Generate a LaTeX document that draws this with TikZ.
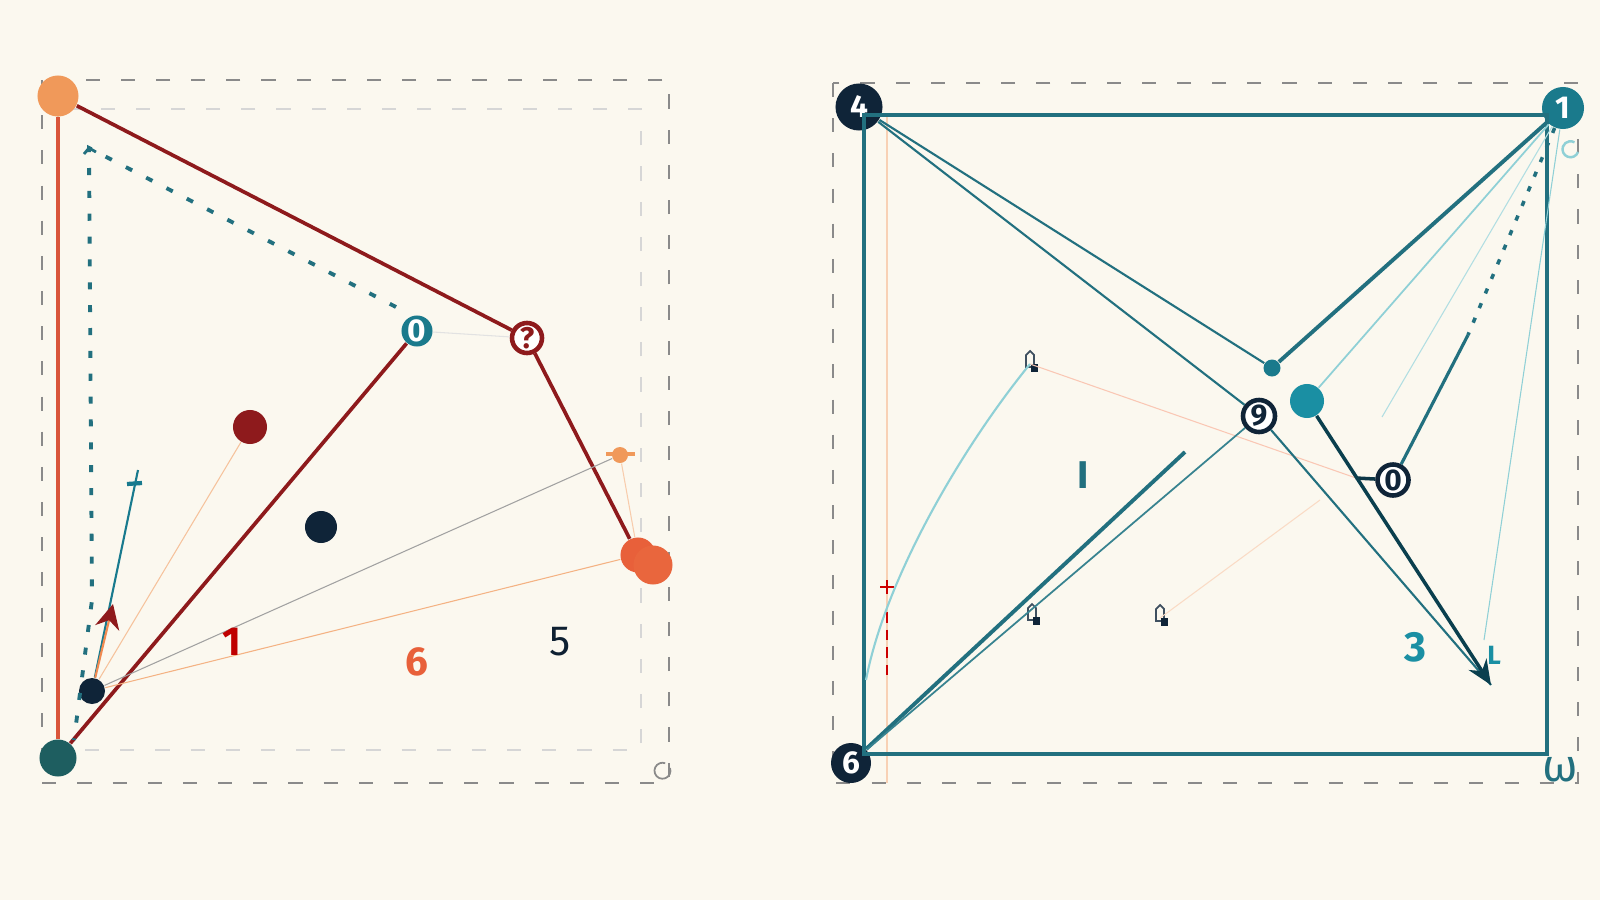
\documentclass[tikz,border=0pt]{standalone}
\usepackage{fontspec}
\setsansfont{Fira Sans}
\usetikzlibrary{arrows.meta}
\definecolor{paper}{HTML}{FBF8EF}
\definecolor{navy}{HTML}{0F2438}
\definecolor{tealline}{HTML}{22707F}
\definecolor{tealnode}{HTML}{1A7A8C}
\definecolor{tealbright}{HTML}{1A8FA3}
\definecolor{teallight}{HTML}{8FD0D6}
\definecolor{tealdeep}{HTML}{1E5E60}
\definecolor{darkred}{HTML}{8E1A1C}
\definecolor{redline}{HTML}{D9553A}
\definecolor{peach}{HTML}{F0995A}
\definecolor{flame}{HTML}{E8603A}
\definecolor{guide}{HTML}{8A8A8A}
\tikzstyle{blob} = [circle, inner sep=0pt]
\tikzstyle{numfill} = [circle, inner sep=0pt, text=white, font=\sffamily\bfseries\fontsize{9}{9}\selectfont]
\tikzstyle{numring} = [circle, inner sep=0pt, fill=white, line width=1.3pt, font=\sffamily\bfseries\fontsize{8.5}{8.5}\selectfont]
\tikzstyle{bigdigit} = [inner sep=0pt, font=\sffamily\fontsize{12}{12}\selectfont]
\tikzstyle{guidebox} = [guide, dashed, line width=0.5pt, dash pattern=on 4pt off 6pt]
\tikzstyle{redthick} = [darkred, line width=1.05pt]
\tikzstyle{tealthick} = [tealline, line width=1.1pt]
\tikzstyle{tealthin} = [tealline, line width=0.6pt]
\tikzstyle{hair} = [line width=0.3pt]
\tikzstyle{pointer} = [draw=navy!80, fill=paper, line width=0.5pt]

\begin{document}
\begin{tikzpicture}[x=0.01cm, y=-0.01cm]
\fill[paper] (0,0) rectangle (1600,900);
\useasboundingbox (0,0) rectangle (1600,900);

% left panel guides
\draw[guidebox] (42,80) rectangle (669,783);
\draw[guidebox, guide!35] (58,109) rectangle (641,750);

% left panel nodes
\node (tl) [blob, fill=peach, minimum size=0.41cm] at (58,96) {};
\node (bl) [blob, fill=tealdeep, minimum size=0.37cm] at (58,758) {};
\node (zeroL) [numfill, fill=tealnode, minimum size=0.31cm] at (417,331) {0};
\node (hook) [numring, draw=darkred, text=darkred, minimum size=0.30cm] at (527,338) {?};
\node (flameA) [blob, fill=flame, minimum size=0.35cm] at (638,555) {};
\node (flameB) [blob, fill=flame!90!peach, minimum size=0.39cm] at (653,565) {};
\node (redc) [blob, fill=darkred, minimum size=0.34cm] at (250,427) {};
\node (navmid) [blob, fill=navy, minimum size=0.32cm] at (321,527) {};
\node (navsm) [blob, fill=navy, minimum size=0.26cm] at (92,691) {};
\node (orsm) [blob, fill=peach, minimum size=0.16cm] at (620,455) {};
\coordinate (tealtop) at (138,470);
\coordinate (redtip) at (113,604);
\coordinate (dotA) at (396,307);
\coordinate (dotB) at (89,148);
\coordinate (dotC) at (92,600);
\coordinate (dotD) at (74,740);

% left panel lines
\draw[redline, line width=1pt] (tl) -- (bl);
\draw[redthick] (tl) -- (hook);
\draw[redthick] (hook) -- (flameA);
\draw[redthick] (bl) -- (zeroL);
\draw[hair, guide!25] (zeroL) -- (hook);
\draw[tealline, line width=1.1pt, dash pattern=on 2pt off 4.5pt] (dotA) -- (dotB) -- (dotC) -- (dotD);
\draw[tealline, line width=0.8pt] (84,154) -- (dotB) -- (96,152);
\draw[hair, peach!60] (redc) -- (navsm);
\draw[tealbright!80!navy, line width=0.6pt] (navsm) -- (tealtop);
\draw[tealbright!80!navy, line width=1.2pt] (127,484) -- (142,483);
\draw[peach!90!red, line width=0.6pt, -{Stealth[darkred, length=7pt, width=7pt]}] (navsm) -- (redtip);
\draw[hair, peach!75] (navsm) -- (flameA);
\draw[hair, guide!80] (navsm) -- (orsm);
\draw[hair, peach!50] (orsm) -- (flameA);
\draw[peach, line width=1pt] (606,454) -- (635,454);
\draw[guide, line width=0.5pt] (670,768) arc (-20:290:8);

% left panel labels
\node (oneL) [bigdigit, text=red!75!black, font=\sffamily\bfseries\fontsize{11.5}{11.5}\selectfont] at (232,642) {1};
\node (sixL) [bigdigit, text=flame, font=\sffamily\bfseries\fontsize{11.5}{11.5}\selectfont] at (417,662) {6};
\node (fiveL) [bigdigit, text=navy!90!black] at (560,642) {5};

% right panel guides
\draw[guidebox] (833,83) rectangle (1578,783);
\draw[hair, peach!45] (887,115) -- (887,783);
\draw[red!80!black, line width=0.8pt, dashed, dash pattern=on 3pt off 2pt] (887,612) -- (887,677);
\draw[red!80!black, line width=0.8pt] (880,587) -- (894,587) (887,580) -- (887,594);

% right panel nodes
\node (four) [numfill, fill=navy, minimum size=0.47cm] at (859,107) {4};
\node (one) [numfill, fill=tealnode, minimum size=0.42cm] at (1563,108) {1};
\node (six) [numfill, fill=navy, minimum size=0.40cm] at (851,763) {6};
\node (nine) [numring, draw=navy, text=navy, minimum size=0.32cm] at (1259,416) {9};
\node (zeroR) [numring, draw=navy, text=navy, minimum size=0.31cm] at (1393,480) {0};
\node (tdot) [blob, fill=tealnode, minimum size=0.17cm] at (1272,368) {};
\node (tbig) [blob, fill=tealbright, minimum size=0.34cm] at (1307,401) {};
\coordinate (tipA) at (1491,685);
\coordinate (sixend) at (1185,452);
\coordinate (dotend) at (1468,335);
\coordinate (zerojoin) at (1356,478);
\coordinate (curvefoot) at (866,680);

% pointer icons
\foreach \name/\px/\py in {ptrA/1030/364, ptrB/1032/617, ptrC/1160/618} {
  \coordinate (\name) at (\px,\py);
  \draw[pointer] (\px-4,\py+3) -- (\px-4,\py-9) -- (\px,\py-13) -- (\px+4,\py-9) -- (\px+4,\py+3) -- cycle;
  \fill[navy] (\px+1,\py) rectangle (\px+8,\py+8);
}

% right panel box
\draw[tealthick] (864,115) rectangle (1547,754);

% right panel lines
\draw[hair, teallight!70] (one) -- (1382,417);
\draw[hair, teallight] (one) -- (1484,640);
\draw[hair, peach!35] (ptrC) -- (1320,500);
\draw[hair, red!25!peach!40] (ptrA) -- (zerojoin);
\draw[navy!80!teal, line width=1pt] (zerojoin) -- (zeroR);
\draw[teallight, line width=0.6pt] (curvefoot) .. controls (885,580) and (960,450) .. (ptrA);
\draw[tealthin] (four) -- (nine);
\draw[tealthin] (nine) -- (tipA);
\draw[tealthin] (four) -- (tdot);
\draw[tealthick] (tdot) -- (one);
\draw[teallight, line width=0.5pt] (one) -- (tbig);
\draw[navy!70!teal, line width=1pt, -{Stealth[length=7pt, width=6pt]}] (tbig) -- (tipA);
\draw[tealline, line width=1pt, dash pattern=on 1.5pt off 3pt] (one) -- (dotend);
\draw[tealline, line width=0.9pt] (dotend) -- (zeroR);
\draw[tealthick] (six) -- (sixend);
\draw[tealline!80!teallight, line width=0.5pt] (six) -- (nine);

% right panel labels
\node (iR) [bigdigit, text=tealline, font=\sffamily\bfseries\fontsize{11}{11}\selectfont] at (1083,475) {I};
\node (threeR) [bigdigit, text=tealbright, font=\sffamily\bfseries\fontsize{12}{12}\selectfont] at (1415,647) {3};
\node (lR) [bigdigit, text=tealbright, font=\sffamily\bfseries\fontsize{7.5}{7.5}\selectfont] at (1494,655) {L};
\node (omega) [bigdigit, text=tealline, font=\sffamily\fontsize{13}{13}\selectfont] at (1560,770) {ω};
\draw[teallight, line width=0.7pt] (1578,152) arc (20:300:8);

\end{tikzpicture}
\end{document}
